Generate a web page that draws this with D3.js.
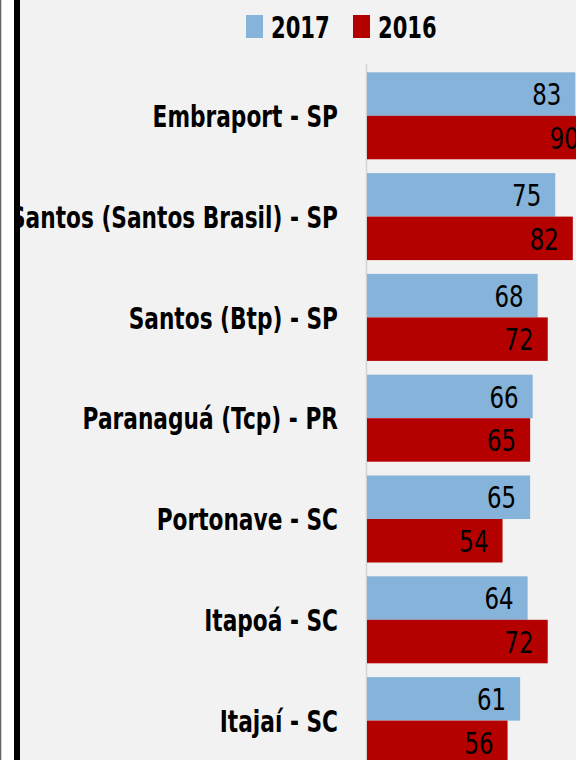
<!DOCTYPE html>
<html>
<head>
<meta charset="utf-8">
<script src="https://cdn.jsdelivr.net/npm/d3@7"></script>
<style>
	html, body { margin: 0; padding: 0; background: #fff; }
	svg { display: block; }
</style>
</head>
<body>
<script>
const categories = [
	"Embraport - SP",
	"Santos (Santos Brasil) - SP",
	"Santos (Btp) - SP",
	"Paranaguá (Tcp) - PR",
	"Portonave - SC",
	"Itapoá - SC",
	"Itajaí - SC"
];
const seriesNames = ["2017", "2016"];
const values2017 = [83, 75, 68, 66, 65, 64, 61];
const values2016 = [90, 82, 72, 65, 54, 72, 56];
const colours = ["#85b3d9", "#b50000"];

const width = 576, height = 760;
const font = "'DejaVu Sans', sans-serif";

const rows = categories.map((c, i) => ({
	cat: c,
	vals: [values2017[i], values2016[i]]
}));

const svg = d3.select("body").append("svg")
	.attr("width", width)
	.attr("height", height);

svg.append("rect")
	.attr("x", 20)
	.attr("y", 0)
	.attr("width", width - 20)
	.attr("height", height)
	.attr("fill", "#f2f2f2");

const x = d3.scaleLinear()
	.domain([0, 100])
	.range([367, 618]);

const y = d3.scaleBand()
	.domain(categories)
	.range([72.3, 72.3 + 6 * 100.8 + 87])
	.paddingInner(0.137)
	.paddingOuter(0);

const ySub = d3.scaleBand()
	.domain(seriesNames)
	.range([0, y.bandwidth()]);

// axis line
svg.append("line")
	.attr("x1", x(0) - 0.5)
	.attr("x2", x(0) - 0.5)
	.attr("y1", 64)
	.attr("y2", height)
	.attr("stroke", "#d4d4d4")
	.attr("stroke-width", 1.5);

const g = svg.append("g")
	.selectAll("g")
	.data(rows)
	.enter()
	.append("g")
	.attr("transform", d => `translate(0,${y(d.cat)})`);

const bar = g.selectAll("g")
	.data(d => d.vals.map((v, j) => ({ v, s: seriesNames[j], c: colours[j] })))
	.enter()
	.append("g");

bar.append("rect")
	.attr("x", x(0))
	.attr("y", d => ySub(d.s))
	.attr("width", d => x(d.v) - x(0))
	.attr("height", ySub.bandwidth())
	.attr("fill", d => d.c);

// condensed look: squeeze the text horizontally
bar.append("text")
	.attr("transform", d => `translate(${x(d.v) - 14},${ySub(d.s) + ySub.bandwidth() / 2}) scale(0.74,1)`)
	.attr("dy", "0.36em")
	.attr("text-anchor", "end")
	.attr("font-family", font)
	.attr("font-size", 31)
	.attr("fill", "#000")
	.text(d => d.v);

// category labels
svg.append("g")
	.selectAll("text")
	.data(categories)
	.enter()
	.append("text")
	.attr("transform", d => `translate(338,${y(d) + y.bandwidth() / 2}) scale(0.70,1)`)
	.attr("dy", "0.36em")
	.attr("text-anchor", "end")
	.attr("font-family", font)
	.attr("font-weight", "bold")
	.attr("font-size", 31)
	.attr("fill", "#000")
	.text(d => d);

// legend
const legendX = [246, 353];
const lg = svg.append("g")
	.selectAll("g")
	.data(seriesNames)
	.enter()
	.append("g")
	.attr("transform", (d, i) => `translate(${legendX[i]},0)`);

lg.append("rect")
	.attr("x", 0)
	.attr("y", 15)
	.attr("width", 17)
	.attr("height", 23)
	.attr("fill", (d, i) => colours[i]);

lg.append("text")
	.attr("transform", "translate(25,38) scale(0.68,1)")
	.attr("font-family", font)
	.attr("font-weight", "bold")
	.attr("font-size", 31)
	.attr("fill", "#000")
	.text(d => d);

// frame on the left
svg.append("rect")
	.attr("x", 0).attr("y", 0)
	.attr("width", 14).attr("height", height)
	.attr("fill", "#fff");
svg.append("rect")
	.attr("x", 0).attr("y", 0)
	.attr("width", 1.3).attr("height", height)
	.attr("fill", "#666");
svg.append("rect")
	.attr("x", 14).attr("y", 0)
	.attr("width", 6).attr("height", height)
	.attr("fill", "#000");
</script>
</body>
</html>
